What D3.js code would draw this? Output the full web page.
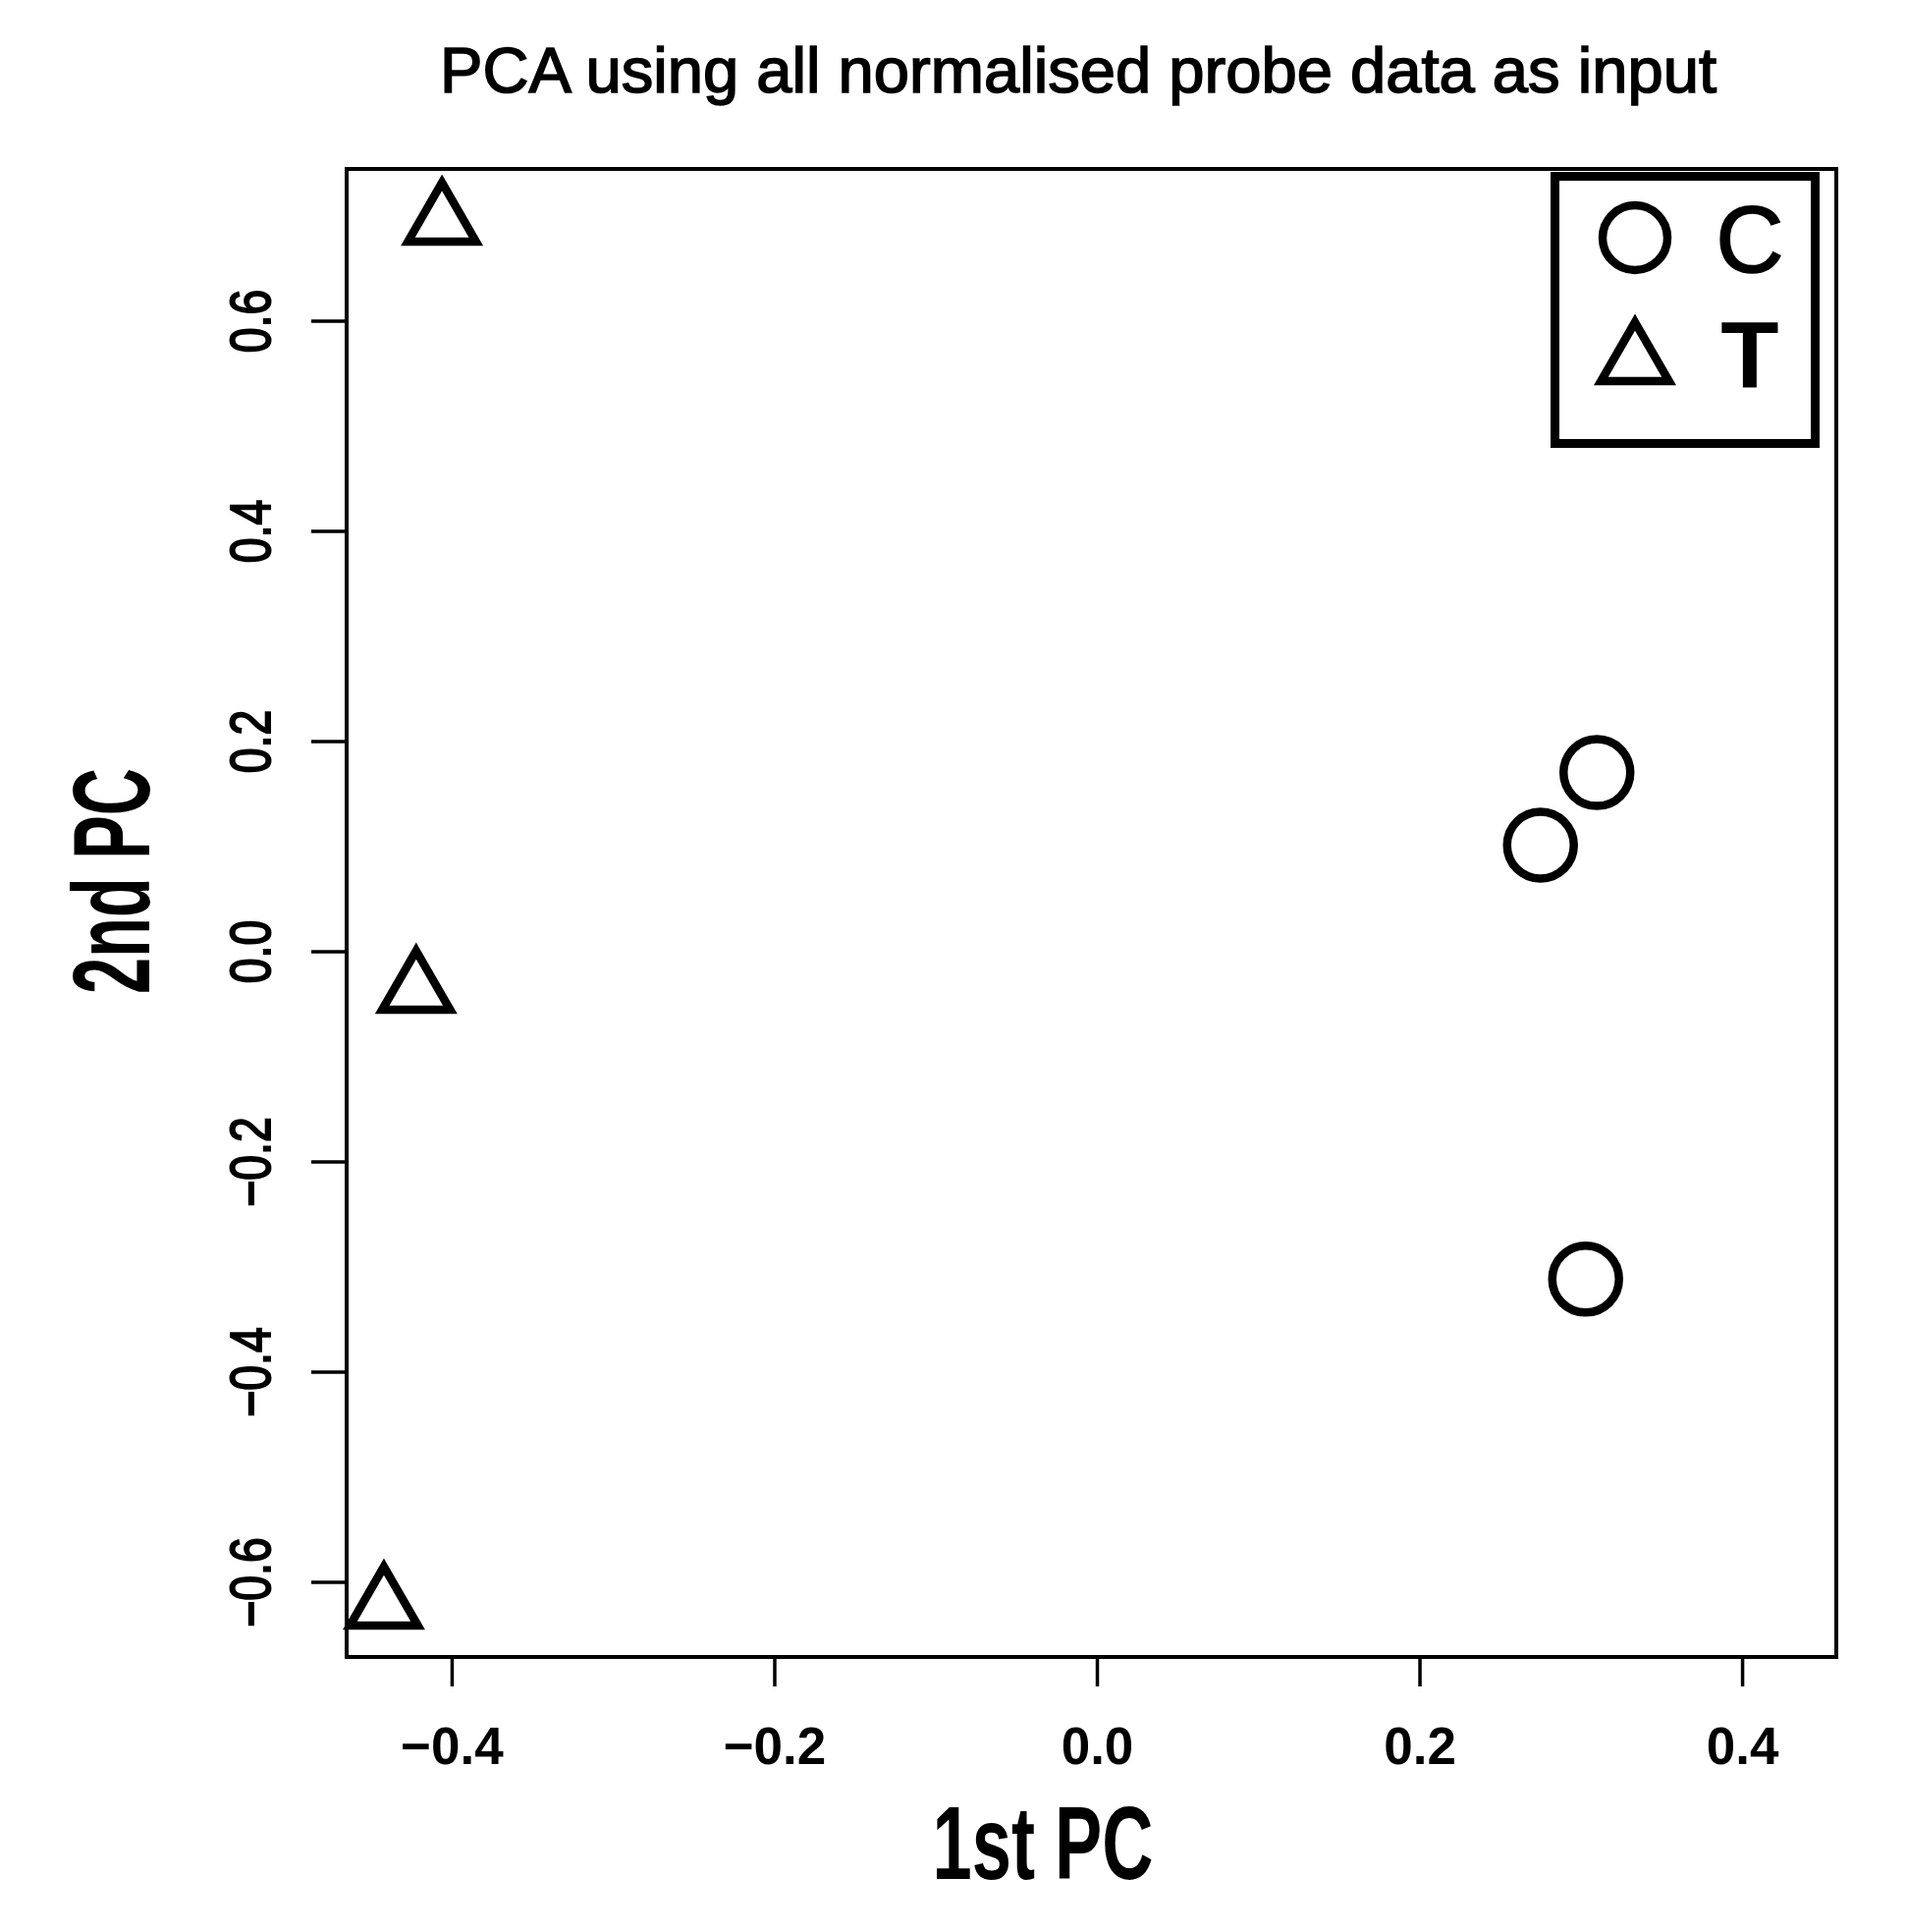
<!DOCTYPE html>
<html><head><meta charset="utf-8">
<script src="https://cdn.jsdelivr.net/npm/d3@7"></script>
<style>body{margin:0;background:#fff}</style>
</head><body>
<script>
// ---- data ----
const groups = ["C", "T"];
const pc1C = [0.310, 0.275, 0.303];
const pc2C = [0.170, 0.101, -0.312];
const pc1T = [-0.406, -0.422, -0.442];
const pc2T = [0.694, -0.037, -0.623];
const xTicks = [-0.4, -0.2, 0.0, 0.2, 0.4];
const yTicks = [-0.6, -0.4, -0.2, 0.0, 0.2, 0.4, 0.6];
const xDomain = [-0.4651, 0.4584];
const yDomain = [-0.6715, 0.7444];
const title = "PCA using all normalised probe data as input";
const xTitle = "1st PC";
const yTitle = "2nd PC";

const W = 1942, H = 1967;
const L = 353, R = 1870, T = 172, B = 1687;
const font = "'Liberation Sans', Arial, Helvetica, sans-serif";

const svg = d3.select("body").append("svg").attr("width", W).attr("height", H)
  .style("font-family", font);
svg.append("rect").attr("width", W).attr("height", H).attr("fill", "#fff");

const x = d3.scaleLinear().domain(xDomain).range([L, R]);
const y = d3.scaleLinear().domain(yDomain).range([B, T]);
const fmt = d3.format(".1f");

// title
svg.append("text").attr("x", 1098).attr("y", 94).attr("text-anchor", "middle")
  .attr("font-size", 65).attr("textLength", 1300).attr("lengthAdjust", "spacingAndGlyphs")
  .attr("stroke", "#000").attr("stroke-width", 1.6)
  .text(title);

// x axis
const gx = svg.append("g").attr("transform", `translate(0,${B})`)
  .call(d3.axisBottom(x).tickValues(xTicks).tickFormat(fmt).tickSize(30).tickSizeOuter(0));
gx.select(".domain").remove();
gx.selectAll(".tick line").attr("stroke", "#000").attr("stroke-width", 3.5);
gx.selectAll(".tick text").attr("y", 109).attr("dy", null)
  .attr("font-size", 53).attr("font-weight", "bold").attr("fill", "#000")
  .style("font-family", font);

// y axis
const gy = svg.append("g").attr("transform", `translate(${L},0)`)
  .call(d3.axisLeft(y).tickValues(yTicks).tickFormat(fmt).tickSize(36).tickSizeOuter(0));
gy.select(".domain").remove();
gy.selectAll(".tick line").attr("stroke", "#000").attr("stroke-width", 3.5);
gy.selectAll(".tick text")
  .attr("x", null).attr("dy", null).attr("y", null)
  .attr("text-anchor", "middle")
  .attr("transform", "translate(-78,0) rotate(-90)")
  .attr("font-size", 58).attr("fill", "#000")
  .attr("stroke", "#000").attr("stroke-width", 2)
  .style("font-family", font)
  .each(function () {
    const len = this.getComputedTextLength();
    d3.select(this).attr("textLength", len * 0.8).attr("lengthAdjust", "spacingAndGlyphs");
  });

// frame
svg.append("rect").attr("x", L).attr("y", T).attr("width", R - L).attr("height", B - T)
  .attr("fill", "none").attr("stroke", "#000").attr("stroke-width", 4);

// axis titles
svg.append("text").attr("x", 1062).attr("y", 1913).attr("text-anchor", "middle")
  .attr("font-size", 105).attr("font-weight", "bold")
  .attr("textLength", 225).attr("lengthAdjust", "spacingAndGlyphs").text(xTitle);
svg.append("text").attr("transform", "translate(152,897) rotate(-90)").attr("text-anchor", "middle")
  .attr("font-size", 112).attr("font-weight", "bold")
  .attr("textLength", 230).attr("lengthAdjust", "spacingAndGlyphs").text(yTitle);

// points
const triSize = 400 * 3 * Math.sqrt(3); // circumradius 40
const tri = d3.symbol().type(d3.symbolTriangle).size(triSize);
const ptsC = pc1C.map((v, i) => ({ x: v, y: pc2C[i] }));
const ptsT = pc1T.map((v, i) => ({ x: v, y: pc2T[i] }));

svg.append("g").selectAll("circle").data(ptsC).join("circle")
  .attr("cx", d => x(d.x)).attr("cy", d => y(d.y)).attr("r", 34)
  .attr("fill", "none").attr("stroke", "#000").attr("stroke-width", 8.5);
svg.append("g").selectAll("path").data(ptsT).join("path")
  .attr("d", tri).attr("transform", d => `translate(${x(d.x)},${y(d.y)})`)
  .attr("fill", "none").attr("stroke", "#000").attr("stroke-width", 8.5)
  .attr("stroke-linejoin", "miter");

// legend
const lg = svg.append("g");
lg.append("rect").attr("x", 1583.5).attr("y", 179.5).attr("width", 265).attr("height", 272)
  .attr("fill", "#fff").attr("stroke", "#000").attr("stroke-width", 9);
lg.append("circle").attr("cx", 1665).attr("cy", 242).attr("r", 33)
  .attr("fill", "none").attr("stroke", "#000").attr("stroke-width", 8.5);
lg.append("path").attr("d", tri).attr("transform", "translate(1665,368)")
  .attr("fill", "none").attr("stroke", "#000").attr("stroke-width", 8.5);
lg.append("text").attr("x", 1782).attr("y", 277).attr("text-anchor", "middle")
  .attr("font-size", 96).attr("stroke", "#000").attr("stroke-width", 1.5).text(groups[0]);
lg.append("text").attr("x", 1782).attr("y", 395).attr("text-anchor", "middle")
  .attr("font-size", 97).attr("font-weight", "bold").text(groups[1]);
</script>
</body></html>
